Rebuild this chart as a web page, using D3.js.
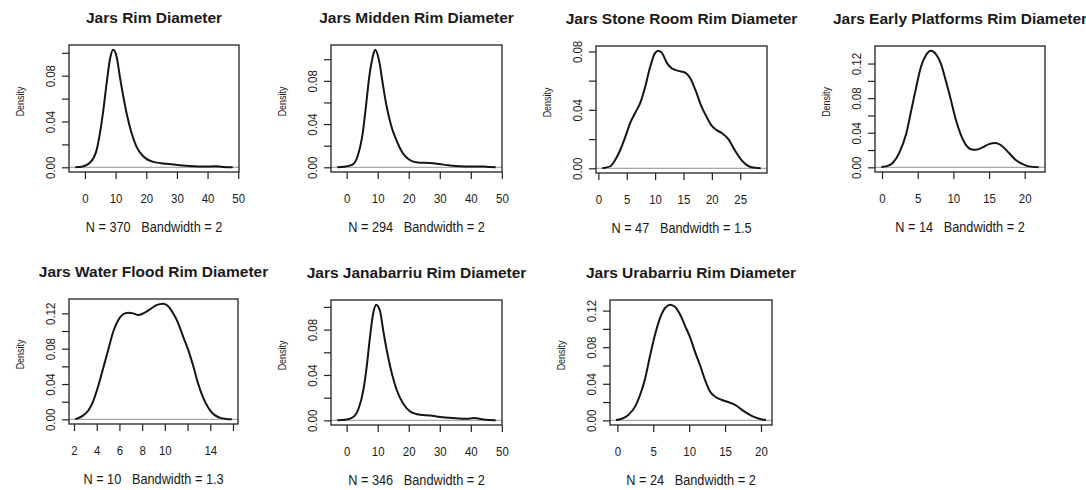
<!DOCTYPE html>
<html>
<head>
<meta charset="utf-8">
<script src="https://cdn.jsdelivr.net/npm/d3@7"></script>
<style>
  body { margin: 0; background: #fff; }
  svg text { font-family: "Liberation Sans", Arial, sans-serif; fill: #1a1a1a; }
  svg text.note { white-space: pre; }
</style>
</head>
<body>
<svg id="chart"></svg>
<script>
// panel titles and the "N / bandwidth" notes under each x axis
const titles = [
  'Jars Rim Diameter',
  'Jars Midden Rim Diameter',
  'Jars Stone Room Rim Diameter',
  'Jars Early Platforms Rim Diameter',
  'Jars Water Flood Rim Diameter',
  'Jars Janabarriu Rim Diameter',
  'Jars Urabarriu Rim Diameter'
]
const notes = [
  'N = 370   Bandwidth = 2',
  'N = 294   Bandwidth = 2',
  'N = 47   Bandwidth = 1.5',
  'N = 14   Bandwidth = 2',
  'N = 10   Bandwidth = 1.3',
  'N = 346   Bandwidth = 2',
  'N = 24   Bandwidth = 2'
]

// density curves: [rim diameter, density]
const rimAll = [[-3.15,0.0001],[-1,0.0005],[1.6,0.004],[3.8,0.015],[4.9,0.030],[6.0,0.050],[7.1,0.074],[8.2,0.095],[9.2,0.1027],[10.3,0.097],[11.4,0.079],[12.5,0.062],[13.6,0.047],[15.2,0.030],[16.8,0.018],[19,0.0096],[22.3,0.0047],[26.6,0.003],[31,0.0017],[35.3,0.001],[39.7,0.0006],[42.4,0.001],[45,0.0003],[48.2,0.0001]]
const rimMidden = [[-3.0,0.0001],[-0.75,0.0005],[1.9,0.0025],[3.5,0.010],[5.2,0.032],[6.2,0.056],[7.3,0.084],[8.4,0.102],[9.2,0.1088],[10.5,0.098],[11.6,0.078],[12.7,0.059],[14.3,0.039],[15.9,0.026],[18.1,0.013],[20.2,0.007],[22.9,0.0045],[26.7,0.004],[29.8,0.003],[33,0.0018],[36.3,0.001],[40.6,0.0008],[43.9,0.0008],[46,0.0003],[48,0.0001]]
const rimStone = [[0.7,0.0002],[1.2,0.0004],[2.1,0.0014],[2.9,0.0053],[3.8,0.012],[4.7,0.021],[5.6,0.031],[6.5,0.038],[7.4,0.045],[8.2,0.055],[9.1,0.069],[10.0,0.079],[10.6,0.0805],[11.2,0.079],[12.1,0.072],[12.9,0.0685],[14.1,0.0667],[15.3,0.0655],[16.2,0.0616],[17.1,0.0536],[18.2,0.042],[19.1,0.035],[20,0.029],[20.9,0.026],[21.8,0.024],[22.9,0.020],[24.1,0.012],[25.3,0.0053],[26.5,0.0014],[27.6,0.0003],[28.6,0.0001]]
const rimEarly = [[-0.1,0.0004],[0.56,0.0011],[1.5,0.005],[2.4,0.0165],[3.4,0.039],[4.1,0.066],[4.75,0.091],[5.45,0.116],[6.15,0.1296],[6.85,0.1349],[7.55,0.131],[8.25,0.12],[8.95,0.10],[9.65,0.078],[10.35,0.055],[11.05,0.0376],[11.75,0.026],[12.45,0.021],[13.15,0.0203],[14.1,0.023],[15,0.0268],[15.9,0.028],[16.9,0.024],[17.8,0.0165],[18.7,0.0088],[19.7,0.0038],[20.6,0.0011],[21.96,0.0002]]
const rimWater = [[2.11,0.0003],[2.23,0.0007],[2.82,0.0045],[3.26,0.01],[3.7,0.021],[4.14,0.038],[4.58,0.0585],[5.02,0.079],[5.46,0.0995],[5.9,0.1126],[6.33,0.119],[6.77,0.1208],[7.2,0.12],[7.65,0.118],[8.1,0.12],[8.68,0.1245],[9.26,0.1293],[9.85,0.131],[10.3,0.128],[10.73,0.12],[11.17,0.109],[11.6,0.094],[12.05,0.079],[12.5,0.0604],[12.9,0.0417],[13.36,0.025],[13.8,0.0138],[14.24,0.0063],[14.83,0.0019],[15.4,0.0004],[15.89,0.0001]]
const rimJanabarriu = [[-3.0,0.0001],[-0.5,0.0005],[2.15,0.003],[3.8,0.010],[5.4,0.027],[6.45,0.047],[7.5,0.073],[8.6,0.095],[9.5,0.102],[10.75,0.0964],[11.8,0.079],[12.9,0.062],[14.5,0.042],[16.1,0.027],[18.3,0.0144],[20.4,0.008],[23.7,0.005],[26.9,0.0043],[30.1,0.003],[34.4,0.002],[38.7,0.0014],[40.9,0.002],[44.1,0.0008],[48,0.0001]]
const rimUrabarriu = [[-0.19,0.0003],[0.6,0.0018],[1.53,0.006],[2.47,0.015],[3.16,0.0277],[3.86,0.0456],[4.56,0.0708],[5.26,0.094],[5.95,0.112],[6.65,0.123],[7.35,0.1265],[8.05,0.124],[8.74,0.1157],[9.44,0.103],[10.14,0.0905],[10.84,0.0744],[11.53,0.06],[12.23,0.0438],[12.93,0.0313],[13.63,0.0259],[14.56,0.0223],[15.5,0.0198],[16.4,0.0169],[17.35,0.0115],[18.28,0.0068],[19.2,0.0032],[20.14,0.001],[20.7,0.0003]]
const curves = [rimAll, rimMidden, rimStone, rimEarly, rimWater, rimJanabarriu, rimUrabarriu]

// tick marks, and which of them carry a label (R drops the ones that would overlap)
const xTicks = [
  [0, 10, 20, 30, 40, 50],
  [0, 10, 20, 30, 40, 50],
  [0, 5, 10, 15, 20, 25],
  [0, 5, 10, 15, 20],
  [2, 4, 6, 8, 10, 12, 14, 16],
  [0, 10, 20, 30, 40, 50],
  [0, 5, 10, 15, 20]
]
const xLabels = [
  [0, 10, 20, 30, 40, 50],
  [0, 10, 20, 30, 40, 50],
  [0, 5, 10, 15, 20, 25],
  [0, 5, 10, 15, 20],
  [2, 4, 6, 8, 10, 14],
  [0, 10, 20, 30, 40, 50],
  [0, 5, 10, 15, 20]
]
const yTicks = [
  [0, 0.02, 0.04, 0.06, 0.08, 0.10],
  [0, 0.02, 0.04, 0.06, 0.08, 0.10],
  [0, 0.02, 0.04, 0.06, 0.08],
  [0, 0.02, 0.04, 0.06, 0.08, 0.10, 0.12],
  [0, 0.02, 0.04, 0.06, 0.08, 0.10, 0.12],
  [0, 0.02, 0.04, 0.06, 0.08, 0.10],
  [0, 0.02, 0.04, 0.06, 0.08, 0.10, 0.12]
]
const yLabels = [
  [0, 0.04, 0.08],
  [0, 0.04, 0.08],
  [0, 0.04, 0.08],
  [0, 0.04, 0.08, 0.12],
  [0, 0.04, 0.08, 0.12],
  [0, 0.04, 0.08],
  [0, 0.04, 0.08, 0.12]
]

// plot boxes in page pixels
const boxes = [
  { left: 69, right: 239, top: 45, bottom: 172 },
  { left: 331, right: 502, top: 45, bottom: 172 },
  { left: 596, right: 767, top: 46, bottom: 173 },
  { left: 875, right: 1045, top: 46, bottom: 172 },
  { left: 69, right: 238, top: 299, bottom: 424 },
  { left: 331, right: 502, top: 300, bottom: 425 },
  { left: 610, right: 772, top: 300, bottom: 425 }
]

const width = 1086
const height = 490
const narrow = 0.85   // the scanned figure uses a condensed face

const svg = d3.select('#chart')
  .attr('width', width)
  .attr('height', height)

// R pads the data range by 4% on each side
function padded(ext) {
  const d = (ext[1] - ext[0]) * 0.04
  return [ext[0] - d, ext[1] + d]
}

const has = (list, v) => list.some(l => Math.abs(l - v) < 1e-9)

curves.forEach((pts, i) => {
  const b = boxes[i]
  const x = d3.scaleLinear()
    .domain(padded(d3.extent(pts, d => d[0])))
    .range([b.left, b.right])
  const y = d3.scaleLinear()
    .domain(padded([0, d3.max(pts, d => d[1])]))
    .range([b.bottom, b.top])

  const g = svg.append('g')

  // zero line
  g.append('line')
    .attr('x1', b.left).attr('x2', b.right)
    .attr('y1', y(0)).attr('y2', y(0))
    .attr('stroke', '#a8a8a8')
    .attr('stroke-width', 1.2)

  // density curve
  const line = d3.line()
    .x(d => x(d[0]))
    .y(d => y(d[1]))
    .curve(d3.curveMonotoneX)

  g.append('path')
    .datum(pts)
    .attr('d', line)
    .attr('fill', 'none')
    .attr('stroke', '#151515')
    .attr('stroke-width', 2)

  // box
  g.append('rect')
    .attr('x', b.left).attr('y', b.top)
    .attr('width', b.right - b.left)
    .attr('height', b.bottom - b.top)
    .attr('fill', 'none')
    .attr('stroke', '#222')
    .attr('stroke-width', 1.3)

  // x axis
  const xAxis = g.append('g')
    .attr('transform', `translate(0,${b.bottom})`)
    .call(d3.axisBottom(x)
      .tickValues(xTicks[i])
      .tickSize(7)
      .tickSizeOuter(0)
      .tickFormat(v => has(xLabels[i], v) ? String(v) : ''))
  xAxis.select('.domain').remove()
  xAxis.selectAll('line').attr('stroke', '#222').attr('stroke-width', 1.2)
  xAxis.selectAll('text')
    .attr('y', 31)
    .attr('dy', null)
    .attr('transform', `scale(${narrow},1)`)
    .attr('font-size', 13.5)
    .attr('font-family', null)
    .attr('fill', null)

  // y axis, labels turned to read upward as R does
  const yAxis = g.append('g')
    .attr('transform', `translate(${b.left},0)`)
    .call(d3.axisLeft(y)
      .tickValues(yTicks[i])
      .tickSize(7)
      .tickSizeOuter(0)
      .tickFormat(v => has(yLabels[i], v) ? d3.format('.2f')(v) : ''))
  yAxis.select('.domain').remove()
  yAxis.selectAll('line').attr('stroke', '#222').attr('stroke-width', 1.2)
  yAxis.selectAll('text')
    .attr('x', 0)
    .attr('y', -14)
    .attr('dy', null)
    .attr('text-anchor', 'middle')
    .attr('transform', `rotate(-90) scale(${narrow},1)`)
    .attr('font-size', 13.5)
    .attr('font-family', null)
    .attr('fill', null)

  // labels
  const mid = (b.left + b.right) / 2
  g.append('text')
    .attr('x', mid)
    .attr('y', b.top - 22)
    .attr('text-anchor', 'middle')
    .attr('font-size', 15.5)
    .attr('font-weight', 'bold')
    .text(titles[i])

  g.append('text')
    .attr('class', 'note')
    .attr('transform', `translate(${mid},${b.bottom + 60}) scale(${narrow},1)`)
    .attr('text-anchor', 'middle')
    .attr('font-size', 15)
    .text(notes[i])

  g.append('text')
    .attr('transform', `translate(${b.left - 45},${(b.top + b.bottom) / 2 - 7}) rotate(-90) scale(${narrow},1)`)
    .attr('text-anchor', 'middle')
    .attr('font-size', 10.5)
    .text('Density')
})
</script>
</body>
</html>
